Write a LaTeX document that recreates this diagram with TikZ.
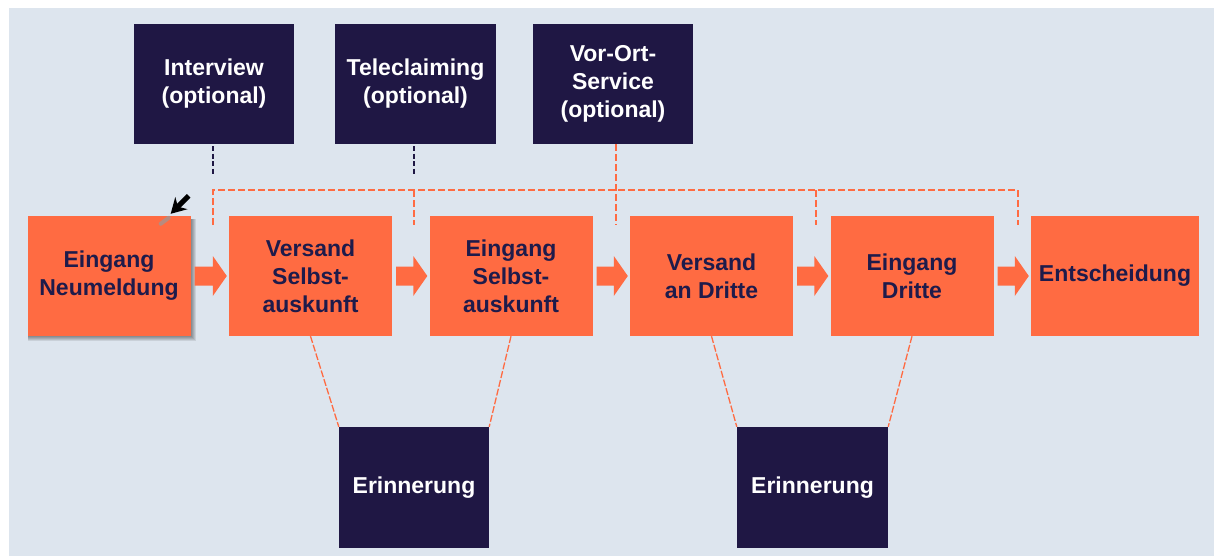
\documentclass[tikz,border=0pt]{standalone}
\usepackage{fontspec}
\setmainfont{Liberation Sans}
\usetikzlibrary{calc,backgrounds,arrows.meta}

\definecolor{bgc}{HTML}{DDE5EE}
\definecolor{orng}{HTML}{FF6B42}
\definecolor{navy}{HTML}{1F1744}
\definecolor{ink}{HTML}{1E1B4B}

\begin{document}
\begin{tikzpicture}[x=1pt,y=-1pt,
  lbl/.style={font=\bfseries\fontsize{23}{28}\selectfont, align=center},
  stage/.style={lbl, fill=orng, text=ink, minimum width=163pt, minimum height=120pt, inner sep=0pt},
  extra/.style={lbl, fill=navy, text=white, minimum width=160pt, minimum height=120pt, inner sep=0pt},
  optlink/.style={draw=navy, line width=2pt, dash pattern=on 5pt off 2.5pt},
  bracket/.style={draw=orng, line width=1.6pt, dash pattern=on 7pt off 3pt},
  remind/.style={draw=orng, line width=1.3pt, dash pattern=on 7pt off 2pt},
]
\useasboundingbox (0,0) rectangle (1214,556);

% main process
\node[stage] (n0) at (109,276) {Eingang\\Neumeldung};
\node[stage] (n1) at (310.5,276) {Versand\\Selbst-\\auskunft};
\node[stage] (n2) at (511,276) {Eingang\\Selbst-\\auskunft};
\node[stage] (n3) at (711.5,276) {Versand\\an Dritte};
\node[stage] (n4) at (912,276) {Eingang\\Dritte};
\node[stage, minimum width=168pt] (n5) at (1115,276) {Entscheidung};

% canvas and the soft shadow of the first stage
\begin{pgfonlayer}{background}
  \fill[white] (0,0) rectangle (1214,556);
  \fill[bgc] (9,8) rectangle (1214,556);
  \foreach \k in {1,2,3,4,5}
    \fill[black, opacity=0.09] ($(n0.north west)+(1,3)$) rectangle ($(n0.south east)+(\k,\k)$);
\end{pgfonlayer}

% block arrows between the stages
\foreach \a/\b in {n0/n1,n1/n2,n2/n3,n3/n4,n4/n5}
  \fill[orng] ($(\a.east)+(4,-9.5)$) -- ($(\b.west)+(-16,-9.5)$) -- ($(\b.west)+(-16,-20)$)
    -- ($(\b.west)+(-2,0)$) -- ($(\b.west)+(-16,20)$) -- ($(\b.west)+(-16,9.5)$)
    -- ($(\a.east)+(4,9.5)$) -- cycle;

% optional services
\node[extra] (iv) at (214,84) {Interview\\(optional)};
\node[extra, minimum width=161pt] (tc) at (415.5,84) {Teleclaiming\\(optional)};
\node[extra] (vo) at (613,84) {Vor-Ort-\\Service\\(optional)};

% reminders
\node[extra, minimum width=150pt, minimum height=121pt] (e1) at (414,487.5) {Erinnerung};
\node[extra, minimum width=151pt, minimum height=121pt] (e2) at (812.5,487.5) {Erinnerung};

% dashed bracket above the stages
\coordinate (b1) at (213,190);
\coordinate (b2) at (414,190);
\coordinate (b3) at (616,190);
\coordinate (b4) at (816,190);
\coordinate (b5) at (1018,190);
\foreach \c in {b1,b2,b3,b4,b5}
  \coordinate (\c d) at ($(\c)+(0,35)$);
\draw[bracket] (b1d) -- (b1) -- (b5) -- (b5d);
\draw[bracket] (b2) -- (b2d);
\draw[bracket] (b4) -- (b4d);
\draw[bracket] (vo.south -| b3) -- (b3d);

% links from the optional services
\coordinate (iv1) at ($(iv.south)+(-1,2)$);
\coordinate (tc1) at ($(tc.south)+(-1.5,2)$);
\draw[optlink] (iv1) -- ++(0,28);
\draw[optlink] (tc1) -- ++(0,28);

% links to the reminders
\draw[remind] (n1.south) -- (e1.north west);
\draw[remind] (n2.south) -- (e1.north east);
\draw[remind] (n3.south) -- (e2.north west);
\draw[remind] (n4.south) -- (e2.north east);

% pointer on the first stage
\coordinate (pt) at ($(n0.north east)+(-20,-2)$);
\coordinate (pb) at ($(n0.north east)+(-2,-20)$);
\draw[black!40, line width=4pt, line cap=round, opacity=0.7] ($(pt)+(-2,4)$) -- ($(pt)+(-10,10)$);
\draw[black, line width=5pt, -{Stealth[length=15pt,width=17pt]}] (pb) -- (pt);
\end{tikzpicture}
\end{document}
